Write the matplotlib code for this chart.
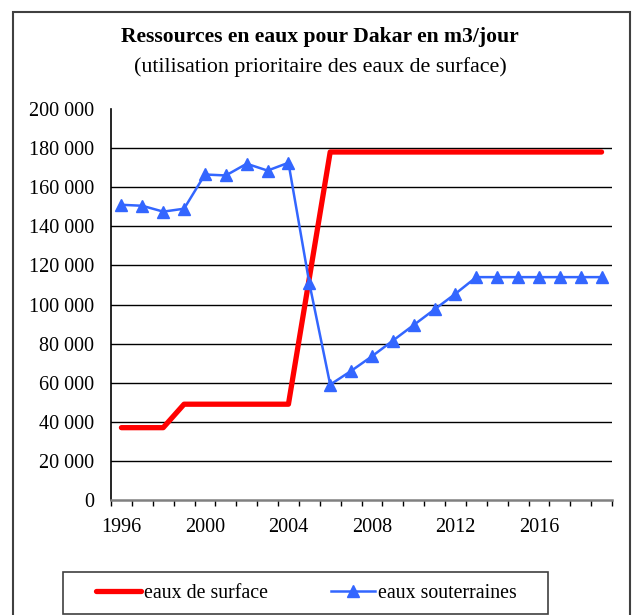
import matplotlib
matplotlib.use("Agg")
import matplotlib.pyplot as plt
from matplotlib.patches import Rectangle
from matplotlib.ticker import FuncFormatter

plt.rcParams['font.family'] = ['Liberation Serif', 'DejaVu Serif']

# donnees (m3/jour)
years = list(range(1996, 2020))
surface = [37000, 37000, 37000, 49000, 49000, 49000, 49000, 49000, 49000,
           113500, 178000, 178000, 178000, 178000, 178000, 178000, 178000,
           178000, 178000, 178000, 178000, 178000, 178000, 178000]
souterraines = [151000, 150500, 147500, 149000, 166500, 166000, 172000, 168500, 172500,
                111000, 59000, 66000, 73500, 81500, 89500, 97500, 105500,
                114000, 114000, 114000, 114000, 114000, 114000, 114000]
label_years = [1996, 2000, 2004, 2008, 2012, 2016]

W, H = 633, 615
fig = plt.figure(figsize=(W / 100, H / 100), dpi=100)
ax = fig.add_axes([111 / W, 1 - 500 / H, (612 - 111) / W, (500 - 109) / H])

x = list(range(len(years)))
ax.plot(x, surface, color='#ff0000', lw=3.8, label='eaux de surface', zorder=3,
        solid_capstyle='round')
ax.plot(x, souterraines, color='#3366ff', lw=1.8, marker='^', markersize=8.5,
        label='eaux souterraines', zorder=4)

ax.set_xlim(-0.5, len(years) - 0.5)
ax.set_ylim(0, 200000)
ax.set_yticks(range(0, 200001, 20000))
ax.yaxis.set_major_formatter(FuncFormatter(lambda v, p: f"{int(v):,}".replace(',', ' ')))
for v in range(20000, 180001, 20000):
    ax.axhline(v, color='black', lw=1.0, zorder=1)

ax.set_xticks([years.index(y) for y in label_years])
ax.set_xticklabels([str(y) for y in label_years])
ax.set_xticks([i - 0.5 for i in range(len(years) + 1)], minor=True)
ax.tick_params(axis='x', which='major', length=0, pad=13, labelsize=14.5)
ax.tick_params(axis='x', which='minor', length=4, width=1, direction='out', color='black')
ax.tick_params(axis='y', length=0, pad=12, labelsize=14.5)

for s in ['top', 'right']:
    ax.spines[s].set_visible(False)
ax.spines['left'].set_color('black')
ax.spines['left'].set_linewidth(1.2)
ax.spines['bottom'].set_color('#808080')
ax.spines['bottom'].set_linewidth(1.8)

fig.text(320 / W, 1 - 37 / H, 'Ressources en eaux pour Dakar en m3/jour',
         ha='center', va='center', fontsize=15.6, fontweight='bold')
fig.text(320 / W, 1 - 67 / H, '(utilisation prioritaire des eaux de surface)',
         ha='center', va='center', fontsize=15.8)

# cadre exterieur
fig.patches.append(Rectangle((13 / W, -0.05), (630 - 13) / W, 1.05 - 12 / H,
                             transform=fig.transFigure, fill=False,
                             edgecolor='#404040', lw=1.5))
# cadre de la legende
fig.patches.append(Rectangle((63 / W, 1 - 614 / H), (548 - 63) / W, (614 - 572) / H,
                             transform=fig.transFigure, fill=False,
                             edgecolor='#404040', lw=1.2))
fig.legend(loc='center', bbox_to_anchor=(306.5 / W, 1 - 593 / H),
           ncol=2, frameon=False, fontsize=14.3, handlelength=2.26,
           handletextpad=0.15, columnspacing=3.17, borderpad=0)

fig.savefig('out.png', dpi=100)
